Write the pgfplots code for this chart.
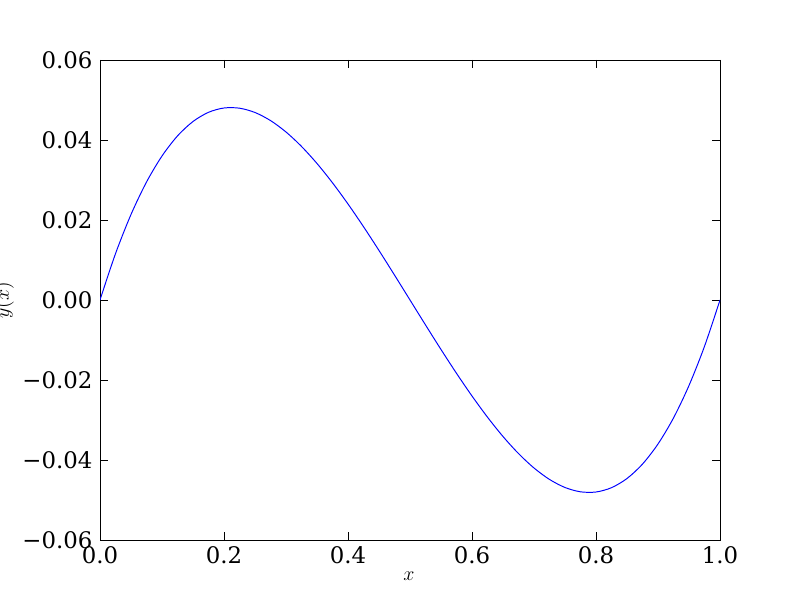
\documentclass[border=0pt]{standalone}
\usepackage{fontspec}
\setmainfont{DejaVu Serif}
\usepackage{pgfplots}
\pgfplotsset{compat=1.18}

\begin{document}
\begin{tikzpicture}[x=1in,y=1in]
\path[fill=white] (0,0) rectangle (8,6);
\useasboundingbox (0,0) rectangle (8,6);
\begin{axis}[
    at={(1in,0.6in)}, anchor=south west,
    width=6.2in, height=4.8in, scale only axis,
    xmin=0, xmax=1, ymin=-0.06, ymax=0.06,
    scaled y ticks=false, scaled x ticks=false,
    xtick={0,0.2,0.4,0.6,0.8,1.0},
    xticklabels={0.0,0.2,0.4,0.6,0.8,1.0},
    ytick={-0.06,-0.04,-0.02,0,0.02,0.04,0.06},
    yticklabels={−0.06,−0.04,−0.02,0.00,0.02,0.04,0.06},
    tick align=inside, tick pos=both,
    major tick length=0.08in,
    tick style={black, line width=0.7pt},
    axis line style={line width=0.7pt},
    ticklabel style={font=\fontsize{16.5}{18}\selectfont},
    xticklabel style={yshift=-1pt},
    yticklabel style={xshift=-2pt},
    /pgf/number format/assume math mode=true,
]
\addplot[color=blue, line width=0.7pt, smooth] coordinates {
    (0.000,0.000000) (0.025,0.011578) (0.050,0.021375) (0.075,0.029484)
    (0.100,0.036000) (0.125,0.041016) (0.150,0.044625) (0.175,0.046922)
    (0.200,0.048000) (0.225,0.047953) (0.250,0.046875) (0.275,0.044859)
    (0.300,0.042000) (0.325,0.038391) (0.350,0.034125) (0.375,0.029297)
    (0.400,0.024000) (0.425,0.018328) (0.450,0.012375) (0.475,0.006234)
    (0.500,0.000000) (0.525,-0.006234) (0.550,-0.012375) (0.575,-0.018328)
    (0.600,-0.024000) (0.625,-0.029297) (0.650,-0.034125) (0.675,-0.038391)
    (0.700,-0.042000) (0.725,-0.044859) (0.750,-0.046875) (0.775,-0.047953)
    (0.800,-0.048000) (0.825,-0.046922) (0.850,-0.044625) (0.875,-0.041016)
    (0.900,-0.036000) (0.925,-0.029484) (0.950,-0.021375) (0.975,-0.011578)
    (1.000,0.000000)
};
\end{axis}
\node at (4.09,0.24) {\Large$x$};
\node[rotate=90] at (0.04,3.0) {\Large$y(x)$};
\end{tikzpicture}
\end{document}
